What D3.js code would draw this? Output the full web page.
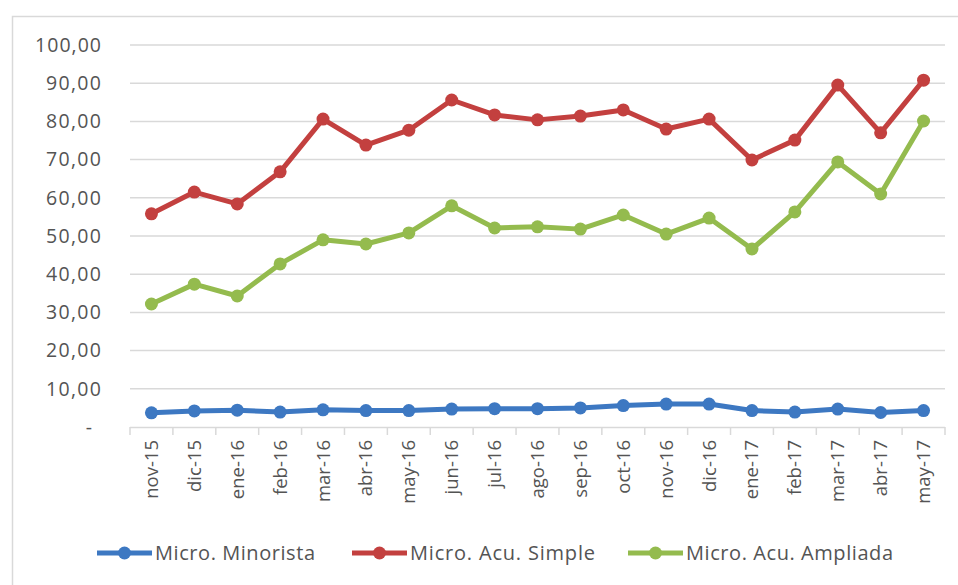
<!DOCTYPE html>
<html><head><meta charset="utf-8">
<script src="https://cdn.jsdelivr.net/npm/d3@7"></script>
<style>body{margin:0;background:#fff;}svg{display:block;}text{font-family:"Open Sans","Noto Sans",sans-serif;fill:#545454;}</style>
</head><body>
<svg id="c" width="958" height="585"></svg>
<script>
const categories = ["nov-15","dic-15","ene-16","feb-16","mar-16","abr-16","may-16","jun-16","jul-16","ago-16","sep-16","oct-16","nov-16","dic-16","ene-17","feb-17","mar-17","abr-17","may-17"];
const minorista = [3.7,4.2,4.4,3.9,4.5,4.3,4.3,4.7,4.8,4.8,5.0,5.6,6.0,6.0,4.3,3.9,4.7,3.8,4.3];
const simple = [55.8,61.5,58.4,66.8,80.6,73.8,77.7,85.6,81.7,80.4,81.4,83.0,78.0,80.6,69.9,75.1,89.5,77.0,90.8];
const ampliada = [32.2,37.4,34.3,42.7,49.0,47.9,50.8,57.9,52.1,52.4,51.8,55.5,50.5,54.7,46.6,56.3,69.4,61.0,80.1];
const seriesNames = ["Micro. Minorista","Micro. Acu. Simple","Micro. Acu. Ampliada"];
const colors = ["#3d78c2","#c3403f","#94bb4e"];
const yTicks = [0,10,20,30,40,50,60,70,80,90,100];

const svg = d3.select("#c");
svg.append("path").attr("d","M12.5,585 V16.5 H958").attr("fill","none").attr("stroke","#d9d9d9").attr("stroke-width",1.5);

const x = d3.scaleBand().domain(categories).range([130,945]);
const y = d3.scaleLinear().domain([0,100]).range([427,45]);
const fmt = v => v===0 ? "-" : d3.format(".2f")(v).replace(".",",");

svg.append("g").selectAll("line").data(yTicks.filter(d=>d>0)).join("line")
  .attr("x1",130).attr("x2",945).attr("y1",d=>y(d)).attr("y2",d=>y(d))
  .attr("stroke","#d9d9d9").attr("stroke-width",1.5);

svg.append("g").selectAll("text").data(yTicks).join("text")
  .attr("x",d=> d===0 ? 92 : 101).attr("y",d=>y(d)).attr("dy","0.35em")
  .attr("text-anchor","end").attr("font-size",19.5).attr("textLength",d=>d===100?66:(d===0?null:55))
  .text(fmt);

const xAxis = d3.axisBottom(x).tickSize(8).tickFormat("");
const gx = svg.append("g").attr("transform","translate(0,427)").call(xAxis);
gx.select(".domain").attr("stroke","#d9d9d9").attr("stroke-width",1.5).attr("d","M130,0.5H945");
gx.selectAll(".tick").remove();
const edges = categories.map(c=>x(c)).concat([945]);
gx.selectAll("line.t").data(edges).join("line").attr("class","t")
  .attr("x1",d=>d).attr("x2",d=>d).attr("y1",0).attr("y2",8)
  .attr("stroke","#d9d9d9").attr("stroke-width",1.5);

svg.append("g").selectAll("text").data(categories).join("text")
  .attr("transform",d=>`translate(${x(d)+x.bandwidth()/2},440) rotate(-90)`)
  .attr("dy","0.35em").attr("text-anchor","end").attr("font-size",18.5).text(d=>d);

const all = [minorista, simple, ampliada];
const line = d3.line().x((d,i)=>x(categories[i])+x.bandwidth()/2).y(d=>y(d));
all.forEach((data,k)=>{
  svg.append("path").datum(data).attr("d",line).attr("fill","none")
    .attr("stroke",colors[k]).attr("stroke-width",5).attr("stroke-linejoin","round");
  svg.append("g").selectAll("circle").data(data).join("circle")
    .attr("cx",(d,i)=>x(categories[i])+x.bandwidth()/2).attr("cy",d=>y(d)).attr("r",6.5)
    .attr("fill",colors[k]);
});

const legX = [97,352,628];
const legW = [160,185,207];
const leg = svg.append("g");
seriesNames.forEach((n,k)=>{
  const g = leg.append("g").attr("transform",`translate(${legX[k]},553)`);
  g.append("line").attr("x1",0).attr("x2",55).attr("stroke",colors[k]).attr("stroke-width",5);
  g.append("circle").attr("cx",27.5).attr("r",6.5).attr("fill",colors[k]);
  g.append("text").attr("x",58).attr("dy","0.35em").attr("font-size",20).attr("textLength",legW[k]).text(n);
});
</script>
</body></html>
